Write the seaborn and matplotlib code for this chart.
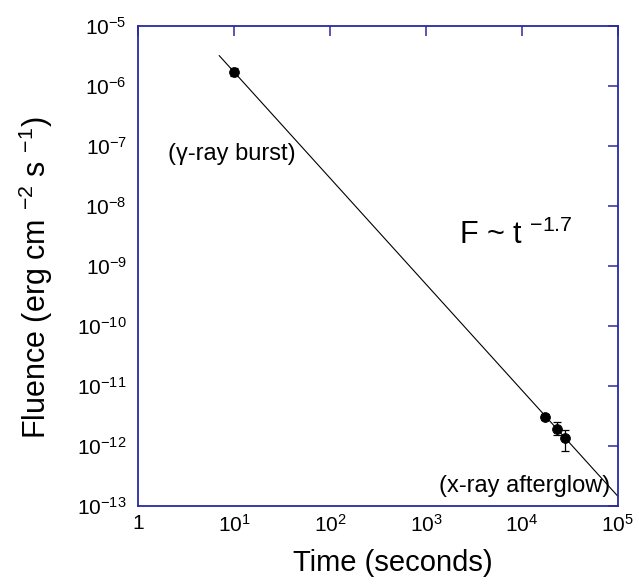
import matplotlib
matplotlib.use("Agg")
import matplotlib.pyplot as plt
import seaborn as sns
import pandas as pd

# data
time_s = [10.0, 1.74e4, 2.32e4, 2.8e4]
fluence = [1.7e-6, 3.05e-12, 1.95e-12, 1.36e-12]
err_lo = [0.25e-6, 0.35e-12, 0.45e-12, 0.55e-12]
err_hi = [0.25e-6, 0.35e-12, 0.55e-12, 0.5e-12]
fit_t = [7.0, 1.0e5]
fit_f = [3.2e-6, 1.45e-13]
xticks = [1, 10, 1e2, 1e3, 1e4, 1e5]
xticklabels = ["1", r"$10^{1}$", r"$10^{2}$", r"$10^{3}$", r"$10^{4}$", r"$10^{5}$"]
yticks = [1e-13, 1e-12, 1e-11, 1e-10, 1e-9, 1e-8, 1e-7, 1e-6, 1e-5]
yticklabels = [r"$10^{\mathregular{%d}}$" % e for e in range(-13, -4)]

sns.set_style("white")
plt.rcParams["font.family"] = ["Liberation Sans", "DejaVu Sans"]
plt.rcParams["mathtext.fontset"] = "custom"
plt.rcParams["mathtext.rm"] = "Liberation Sans"
plt.rcParams["mathtext.it"] = "Liberation Sans"
plt.rcParams["axes.unicode_minus"] = False
plt.rcParams["text.color"] = "black"
plt.rcParams["axes.labelcolor"] = "black"

frame = "#2a2aa0"
fig = plt.figure(figsize=(6.39, 5.87), dpi=100)
ax = fig.add_axes([0.216, 0.138, 0.751, 0.818])

df_fit = pd.DataFrame({"t": fit_t, "f": fit_f})
df_pts = pd.DataFrame({"t": time_s, "f": fluence})
sns.lineplot(data=df_fit, x="t", y="f", ax=ax, color="black", linewidth=0.8)
ax.errorbar(time_s, fluence, yerr=[err_lo, err_hi], fmt="none", ecolor="black",
            elinewidth=0.9, capsize=3, capthick=0.9)
sns.scatterplot(data=df_pts, x="t", y="f", ax=ax, color="black", s=50,
                edgecolor="black", zorder=5)

ax.set_xscale("log")
ax.set_yscale("log")
ax.set_xlim(1, 1e5)
ax.set_ylim(1e-13, 1e-5)
ax.set_xticks(xticks)
ax.set_xticklabels(xticklabels, fontsize=15)
ax.set_yticks(yticks)
ax.set_yticklabels(yticklabels, fontsize=15)
ax.minorticks_off()
ax.tick_params(which="major", direction="in", length=7, width=1.1, color=frame,
               labelcolor="black", top=True, right=True)
ax.tick_params(axis="y", pad=8)
ax.tick_params(axis="x", pad=6)
for sp in ax.spines.values():
    sp.set_color(frame)
    sp.set_linewidth(1.3)

ax.set_xlabel("Time (seconds)", fontsize=21)
ax.set_ylabel(r"Fluence (erg cm $^{\mathregular{-2}}$ s $^{\mathregular{-1}}$)", fontsize=22)
ax.xaxis.set_label_coords(0.53, -0.09)
ax.yaxis.set_label_coords(-0.172, 0.475)

ax.text(2.05, 7.4e-8, "(γ-ray burst)", fontsize=17, ha="left", va="center")
ax.text(2200, 2.33e-9, r"F ~ t $^{\mathregular{-1.7}}$", fontsize=22, ha="left", va="baseline")
ax.text(1365, 2.15e-13, "(x-ray afterglow)", fontsize=17, ha="left", va="center")

fig.savefig("out.png", dpi=100)
